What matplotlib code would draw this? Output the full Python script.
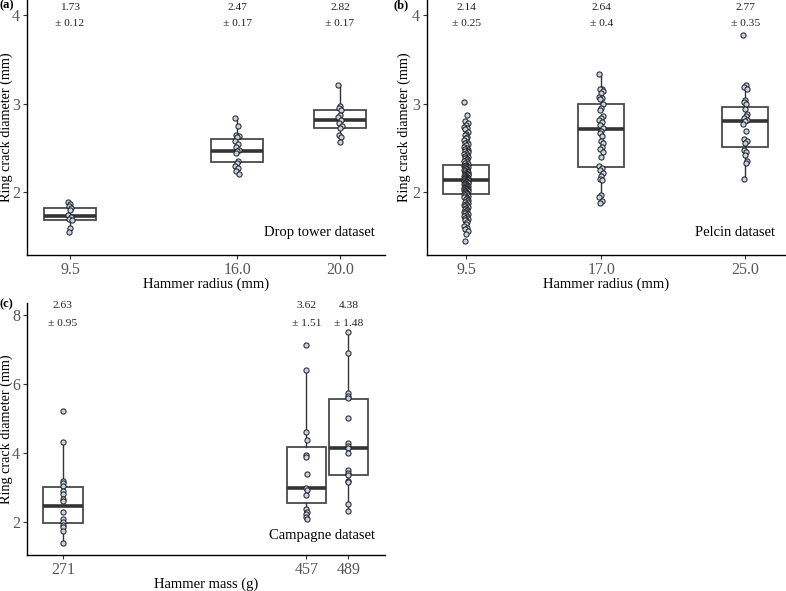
import numpy as np
import matplotlib.pyplot as plt

plt.rcParams['font.family'] = 'Liberation Serif'

# ---- data ----
# (a) drop tower dataset
a_radius = [9.5, 16.0, 20.0]
a_points = [
    [1.89, 1.87, 1.84, 1.82, 1.80, 1.74, 1.72, 1.70, 1.68, 1.59, 1.55],
    [2.84, 2.75, 2.65, 2.63, 2.62, 2.58, 2.54, 2.51, 2.48, 2.46, 2.44,
     2.35, 2.33, 2.30, 2.27, 2.24, 2.20],
    [3.21, 2.97, 2.95, 2.93, 2.87, 2.85, 2.82, 2.78, 2.75, 2.73, 2.65,
     2.62, 2.57],
]
a_q1 = [1.68, 2.34, 2.73]
a_med = [1.725, 2.465, 2.81]
a_q3 = [1.82, 2.605, 2.93]
a_lo = [1.55, 2.20, 2.57]
a_hi = [1.89, 2.84, 3.21]
a_mean = ['1.73', '2.47', '2.82']
a_sd = ['0.12', '0.17', '0.17']

# (b) Pelcin dataset
b_radius = [9.5, 17.0, 25.0]
b_points = [
    [3.02, 2.87, 2.80, 2.78, 2.76, 2.74, 2.73, 2.71, 2.68, 2.66, 2.64, 2.62,
     2.61, 2.59, 2.57, 2.56, 2.54, 2.53, 2.51, 2.50, 2.49, 2.48, 2.47, 2.46,
     2.45, 2.44, 2.43, 2.42, 2.41, 2.40, 2.39, 2.38, 2.37, 2.36, 2.35, 2.34,
     2.33, 2.32,
     2.31, 2.30, 2.30, 2.29, 2.28, 2.28, 2.27, 2.26, 2.26, 2.25, 2.24, 2.24,
     2.23, 2.22, 2.22, 2.21, 2.21, 2.20, 2.20, 2.19, 2.19, 2.18, 2.18, 2.17,
     2.17, 2.16, 2.16, 2.16, 2.15, 2.15, 2.15, 2.14, 2.14, 2.14,
     2.13, 2.13, 2.12, 2.12, 2.11, 2.11, 2.10, 2.10, 2.09, 2.09, 2.08, 2.08,
     2.07, 2.07, 2.06, 2.06, 2.05, 2.05, 2.04, 2.04, 2.03, 2.03, 2.02, 2.02,
     2.01, 2.01, 2.00, 2.00, 1.99, 1.99, 1.98, 1.98,
     1.97, 1.96, 1.95, 1.94, 1.93, 1.92, 1.91, 1.90, 1.89, 1.88, 1.87, 1.86,
     1.85, 1.84, 1.83, 1.82, 1.81, 1.80, 1.79, 1.78, 1.77, 1.76, 1.75, 1.74,
     1.73, 1.72, 1.71, 1.70, 1.69, 1.68, 1.66, 1.64, 1.62, 1.60, 1.58, 1.56,
     1.53, 1.45],
    [3.33, 3.17, 3.16, 3.14, 3.12, 3.07, 3.06, 3.05, 3.00, 2.95, 2.93, 2.86,
     2.84, 2.82, 2.79, 2.76, 2.72, 2.69, 2.67, 2.63, 2.58, 2.55, 2.51, 2.49,
     2.45, 2.40, 2.29, 2.27, 2.25, 2.22, 2.18, 2.15, 2.14, 1.97, 1.95, 1.90,
     1.88],
    [3.77, 3.21, 3.19, 3.16, 3.04, 3.02, 2.99, 2.94, 2.88, 2.86, 2.84, 2.82,
     2.80, 2.77, 2.69, 2.60, 2.58, 2.55, 2.48, 2.45, 2.42, 2.35, 2.33, 2.15],
]
b_q1 = [1.98, 2.283, 2.51]
b_med = [2.14, 2.71, 2.80]
b_q3 = [2.31, 2.99, 2.963]
b_lo = [1.53, 1.88, 2.15]
b_hi = [2.80, 3.33, 3.21]
b_mean = ['2.14', '2.64', '2.77']
b_sd = ['0.25', '0.4', '0.35']

# (c) Campagne dataset
c_mass = [271, 457, 489]
c_points = [
    [5.22, 4.31, 3.18, 3.12, 3.05, 2.90, 2.82, 2.65, 2.62, 2.30, 2.08, 2.00,
     1.92, 1.85, 1.75, 1.38],
    [7.13, 6.41, 4.62, 4.38, 3.93, 3.89, 3.40, 2.98, 2.93, 2.77, 2.36, 2.30,
     2.24, 2.14, 2.07],
    [7.52, 6.90, 5.75, 5.66, 5.58, 5.01, 4.28, 4.20, 4.13, 4.01, 3.50, 3.42,
     3.35, 3.20, 3.15, 2.53, 2.33],
]
c_q1 = [1.98, 2.56, 3.36]
c_med = [2.456, 2.99, 4.14]
c_q3 = [3.02, 4.18, 5.57]
c_lo = [1.38, 2.07, 2.33]
c_hi = [4.31, 6.41, 7.52]
c_mean = ['2.63', '3.62', '4.38']
c_sd = ['0.95', '1.51', '1.48']

W, H = 786, 591
fig = plt.figure(figsize=(W / 100, H / 100), dpi=100)


def px_axes(left, top, right, bottom):
    '''Axes placed by pixel edges.'''
    return fig.add_axes([left / W, 1 - bottom / H, (right - left) / W,
                         (bottom - top) / H])


def panel(ax, xs, points, q1, med, q3, lo, hi, mean, sd, width, jit,
          xlim, ylim, yticks, xticklabels, xlabel, dataset, txt_off,
          ylab_x, data_y):
    stats = [dict(q1=q1[i], med=med[i], q3=q3[i], whislo=lo[i],
                  whishi=hi[i], fliers=[]) for i in range(len(xs))]
    ax.bxp(stats, positions=xs, widths=width, showfliers=False,
           showcaps=False, patch_artist=True, manage_ticks=False,
           boxprops=dict(facecolor='white', edgecolor='#4a4a4a',
                         linewidth=1.3),
           medianprops=dict(color='#333333', linewidth=2.6),
           whiskerprops=dict(color='#333333', linewidth=1.0))

    # small deterministic jitter (golden ratio sequence)
    for x, pts in zip(xs, points):
        n = len(pts)
        offs = ((np.arange(n) * 0.618034) % 1.0 * 2 - 1) * jit
        ax.scatter(x + offs, pts, s=14, facecolor='#c8d2e6',
                   edgecolor='#1a1a1a', linewidth=0.7, zorder=3)

    for x, m, s in zip(xs, mean, sd):
        ax.annotate(m, xy=(x, 1), xycoords=('data', 'axes fraction'),
                    xytext=(0, -txt_off[0]), textcoords='offset pixels',
                    ha='center', va='center', fontsize=8.2, color='#222222')
        ax.annotate('\u00b1 ' + s, xy=(x, 1),
                    xycoords=('data', 'axes fraction'),
                    xytext=(0, -txt_off[1]), textcoords='offset pixels',
                    ha='center', va='center', fontsize=8.2, color='#222222')

    ax.set_xlim(*xlim)
    ax.set_ylim(*ylim)
    ax.set_xticks(xs)
    ax.set_xticklabels(xticklabels)
    ax.set_yticks(yticks)
    ax.set_xlabel(xlabel, fontsize=10.5, labelpad=0)
    ax.set_ylabel('Ring crack diameter (mm)', fontsize=10.2)
    ax.yaxis.set_label_coords(ylab_x, 0.5)
    ax.tick_params(direction='out', length=3, width=0.8, color='#333333',
                   labelcolor='#555555', labelsize=11.5, pad=2)
    for side in ['top', 'right']:
        ax.spines[side].set_visible(False)
    for side in ['left', 'bottom']:
        ax.spines[side].set_linewidth(1.0)
    ax.text(0.972, data_y, dataset, transform=ax.transAxes, ha='right',
            va='center', fontsize=10.5)


ax_a = px_axes(27, 0, 385, 255)
panel(ax_a, a_radius, a_points, a_q1, a_med, a_q3, a_lo, a_hi, a_mean, a_sd,
      2.05, 0.08, (7.83, 21.75), (1.29, 4.17), [2, 3, 4],
      ['9.5', '16.0', '20.0'], 'Hammer radius (mm)', 'Drop tower dataset',
      (7, 23), -0.039, 0.09)

ax_b = px_axes(427, 0, 785, 255)
panel(ax_b, b_radius, b_points, b_q1, b_med, b_q3, b_lo, b_hi, b_mean, b_sd,
      2.55, 0.12, (7.33, 27.2), (1.29, 4.17), [2, 3, 4],
      ['9.5', '17.0', '25.0'], 'Hammer radius (mm)', 'Pelcin dataset',
      (7, 23), -0.045, 0.09)

ax_c = px_axes(27, 303, 385, 555)
panel(ax_c, c_mass, c_points, c_q1, c_med, c_q3, c_lo, c_hi, c_mean, c_sd,
      30, 0.1, (243.5, 517), (1.04, 8.35), [2, 4, 6, 8],
      ['271', '457', '489'], 'Hammer mass (g)', 'Campagne dataset',
      (3, 20), -0.039, 0.079)

fig.text(0, 1 - 5 / H, '(a)', fontsize=9, fontweight='bold',
         ha='left', va='center')
fig.text(393 / W, 1 - 5 / H, '(b)', fontsize=9, fontweight='bold',
         ha='left', va='center')
fig.text(0, 1 - 304 / H, '(c)', fontsize=9, fontweight='bold',
         ha='left', va='center')

fig.savefig('out.png', dpi=100)
